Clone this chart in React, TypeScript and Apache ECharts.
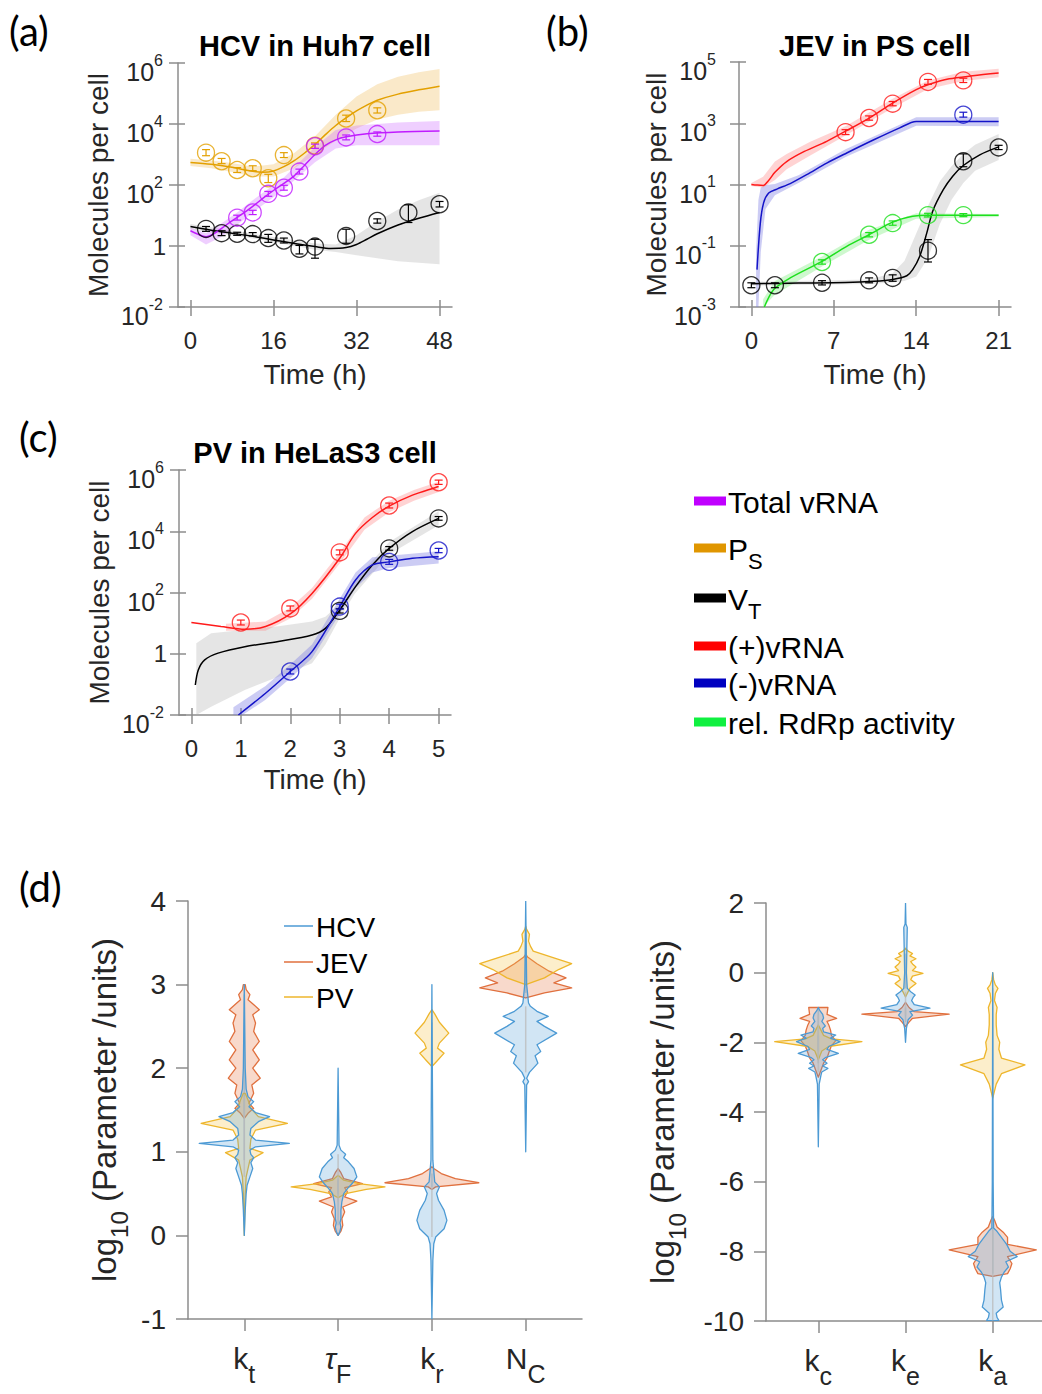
import React, { useEffect, useRef } from 'react';
import * as echarts from 'echarts';

// ======================= DATA =======================
// All concentrations are log10(molecules per cell); times in hours.

// ---------- (a) HCV in Huh7 cell ----------
const hcvTimeTicks = [0, 16, 32, 48];
const hcvLogTicks = [-2, 0, 2, 4, 6];
// measured points: [time, mean, lower, upper]
const hcvPsPoints = [
  [3, 3.06, 2.96, 3.16], [6, 2.78, 2.7, 2.87], [9, 2.49, 2.41, 2.57], [12, 2.55, 2.47, 2.63],
  [15, 2.22, 2.08, 2.35], [18, 2.98, 2.9, 3.06], [24, 3.29, 3.2, 3.38], [30, 4.18, 4.08, 4.29],
  [36, 4.45, 4.36, 4.53],
];
const hcvTotalPoints = [
  [9, 0.93, 0.85, 1.01], [12, 1.1, 1.03, 1.17], [15, 1.71, 1.63, 1.79], [18, 1.91, 1.83, 1.99],
  [21, 2.44, 2.36, 2.52], [24, 3.27, 3.2, 3.34], [30, 3.56, 3.48, 3.64], [36, 3.67, 3.6, 3.74],
];
const hcvVtPoints = [
  [3, 0.56, 0.48, 0.64], [6, 0.42, 0.34, 0.5], [9, 0.4, 0.35, 0.45], [12, 0.39, 0.33, 0.44],
  [15, 0.26, 0.12, 0.38], [18, 0.18, 0.1, 0.26], [21, -0.09, -0.26, 0.02], [24, -0.02, -0.4, 0.22],
  [30, 0.33, 0.09, 0.55], [36, 0.82, 0.75, 0.89], [42, 1.1, 0.77, 1.35], [48, 1.37, 1.28, 1.46],
];
// best-fit model curves: [time, value]
const hcvPsFit = [
  [0, 2.74], [4, 2.68], [8, 2.58], [12, 2.45], [14, 2.42], [16, 2.46], [18, 2.6], [20, 2.8],
  [22, 3.05], [24, 3.33], [26, 3.65], [28, 3.95], [30, 4.2], [32, 4.43], [34, 4.62], [36, 4.78],
  [40, 4.98], [44, 5.12], [48, 5.24],
];
const hcvTotalFit = [
  [0, 0.5], [1.5, 0.38], [3, 0.3], [4.5, 0.4], [6, 0.58], [8, 0.82], [10, 1.05], [12, 1.3],
  [14, 1.57], [16, 1.82], [18, 2.05], [20, 2.3], [22, 2.65], [24, 3.0], [26, 3.3], [28, 3.48],
  [30, 3.58], [34, 3.68], [40, 3.74], [48, 3.77],
];
const hcvVtFit = [
  [0, 0.64], [4, 0.52], [8, 0.42], [12, 0.32], [16, 0.2], [20, 0.08], [24, -0.02], [27, -0.08],
  [30, -0.05], [32, 0.05], [34, 0.22], [36, 0.4], [40, 0.69], [44, 0.91], [48, 1.1],
];
// ensemble envelopes: [time, low, high]
const hcvPsBand = [
  [0, 2.62, 2.86], [4, 2.55, 2.8], [8, 2.43, 2.72], [12, 2.28, 2.6], [16, 2.28, 2.68],
  [20, 2.55, 3.05], [24, 3.0, 3.6], [28, 3.45, 4.3], [32, 3.85, 4.9], [36, 4.15, 5.3],
  [40, 4.3, 5.55], [44, 4.4, 5.7], [48, 4.45, 5.8],
];
const hcvTotalBand = [
  [0, 0.35, 0.6], [3, 0.05, 0.42], [6, 0.3, 0.75], [9, 0.7, 1.1], [12, 1.1, 1.5], [18, 1.85, 2.25],
  [24, 2.75, 3.25], [28, 3.2, 3.8], [32, 3.3, 3.95], [40, 3.3, 4.05], [48, 3.3, 4.1],
];
const hcvVtBand = [
  [0, 0.55, 0.72], [12, 0.25, 0.4], [24, -0.12, 0.08], [28, -0.2, 0.05], [32, -0.3, 0.35],
  [36, -0.4, 0.8], [40, -0.5, 1.2], [44, -0.55, 1.5], [48, -0.6, 1.75],
];

// ---------- (b) JEV in PS cell ----------
const jevTimeTicks = [0, 7, 14, 21];
const jevLogTicks = [-3, -1, 1, 3, 5];
const jevPlusPoints = [
  [8, 2.71, 2.63, 2.79], [10, 3.17, 3.1, 3.24], [12, 3.64, 3.57, 3.71], [15, 4.35, 4.27, 4.43],
  [18, 4.4, 4.33, 4.47],
];
const jevMinusPoints = [[18, 3.28, 3.2, 3.36]];
const jevRdrpPoints = [
  [6, -1.53, -1.6, -1.46], [10, -0.64, -0.71, -0.57], [12, -0.26, -0.33, -0.19], [15, 0, -0.06, 0.06],
  [18, 0, -0.05, 0.05],
];
const jevVtPoints = [
  [0, -2.29, -2.37, -2.21], [2, -2.29, -2.37, -2.21], [6, -2.21, -2.28, -2.14], [10, -2.13, -2.21, -2.05],
  [12, -2.05, -2.16, -1.95], [15, -1.16, -1.53, -0.8], [18, 1.76, 1.58, 2.0], [21, 2.21, 2.14, 2.28],
];
const jevPlusFit = [
  [0, 1.0], [0.5, 0.98], [1, 0.97], [1.5, 1.15], [2, 1.4], [3, 1.75], [4.5, 2.08], [6.4, 2.41],
  [8, 2.74], [10, 3.17], [12, 3.66], [14, 4.1], [15, 4.26], [16.8, 4.45], [18.8, 4.55], [21, 4.64],
];
const jevMinusFit = [
  [0.48, -1.78], [0.76, -0.26], [1.04, 0.4], [1.47, 0.72], [2.17, 0.85], [3.3, 1.03], [4.7, 1.32],
  [6.4, 1.7], [8.1, 2.03], [10.4, 2.46], [12.6, 2.85], [14, 3.06], [21, 3.06],
];
const jevRdrpFit = [
  [1.1, -3], [1.9, -2.43], [3.3, -2.05], [6, -1.51], [8.1, -1.02], [10, -0.64], [12, -0.23],
  [13.7, -0.04], [15, 0], [21, 0],
];
const jevVtFit = [
  [0, -2.24], [4, -2.22], [8, -2.2], [10.4, -2.16], [12, -2.1], [13.2, -1.98], [13.7, -1.78],
  [14.3, -1.34], [14.9, -0.58], [15.4, 0.13], [16.3, 0.83], [17.1, 1.27], [18, 1.62], [19.4, 1.97],
  [21, 2.23],
];
const jevPlusBand = [
  [0, 0.95, 1.05], [1, 0.9, 1.25], [2, 1.15, 1.75], [3, 1.5, 2.0], [5, 1.95, 2.4], [8, 2.6, 2.9],
  [12, 3.5, 3.8], [15, 4.12, 4.4], [18, 4.38, 4.68], [21, 4.5, 4.78],
];
const jevMinusBand = [
  [0.4, -3, -1.2], [0.6, -3, 0.5], [0.8, -1.2, 0.9], [1.2, 0.2, 0.98], [2, 0.65, 1.02],
  [4, 1.05, 1.3], [8, 1.9, 2.15], [14, 2.92, 3.2], [21, 2.9, 3.2],
];
const jevRdrpBand = [
  [1, -3, -2.75], [2, -2.6, -2.15], [6, -1.68, -1.35], [10, -0.8, -0.48], [14, -0.12, 0.06],
  [21, -0.06, 0.04],
];
const jevVtBand = [
  [0, -2.3, -2.18], [10, -2.25, -2.1], [12, -2.2, -1.9], [13, -2.15, -1.5], [14, -2.0, -0.6],
  [15, -1.4, 0.3], [16, -0.3, 1.1], [17, 0.5, 1.6], [18, 1.05, 2.0], [19, 1.45, 2.3], [21, 1.8, 2.65],
];

// ---------- (c) PV in HeLaS3 cell ----------
const pvTimeTicks = [0, 1, 2, 3, 4, 5];
const pvLogTicks = [-2, 0, 2, 4, 6];
const pvPlusPoints = [
  [1, 1.02, 0.94, 1.1], [2, 1.48, 1.4, 1.56], [3, 3.31, 3.23, 3.39], [4, 4.84, 4.76, 4.92],
  [5, 5.6, 5.53, 5.67],
];
const pvVtPoints = [[3, 1.4, 1.33, 1.47], [4, 3.44, 3.38, 3.5], [5, 4.42, 4.36, 4.48]];
const pvMinusPoints = [
  [2, -0.58, -0.66, -0.5], [3, 1.54, 1.46, 1.62], [4, 3.0, 2.92, 3.08], [5, 3.37, 3.3, 3.44],
];
const pvPlusFit = [
  [0, 1.02], [0.6, 0.89], [1.08, 0.8], [1.5, 0.89], [2, 1.3], [2.44, 1.97], [3, 3.12], [3.32, 3.93],
  [3.66, 4.45], [4, 4.82], [4.47, 5.18], [5, 5.46],
];
const pvVtFit = [
  [0.08, -1.02], [0.14, -0.53], [0.27, -0.2], [0.54, 0.02], [1.08, 0.23], [1.76, 0.4], [2.44, 0.61],
  [2.71, 0.83], [2.98, 1.38], [3.32, 2.19], [3.66, 2.9], [4, 3.44], [4.47, 3.99], [5, 4.42],
];
const pvMinusFit = [
  [0.95, -2], [1.5, -1.29], [2, -0.58], [2.44, 0.07], [3, 1.54], [3.32, 2.41], [3.66, 2.9],
  [4, 3.0], [4.47, 3.12], [5, 3.17],
];
const pvPlusBand = [
  [0.7, 0.75, 0.98], [1.5, 0.75, 1.05], [2, 1.15, 1.5], [2.44, 1.8, 2.15], [3, 2.95, 3.3],
  [3.5, 4.05, 4.45], [4, 4.62, 5.0], [4.5, 5.0, 5.35], [5, 5.28, 5.62],
];
const pvVtBand = [
  [0.1, -2, 0.34], [0.4, -1.73, 0.67], [1.08, -1.18, 0.78], [1.76, -0.75, 0.9], [2.44, -0.31, 1.05],
  [2.71, 0.3, 1.21], [2.98, 1.1, 1.6], [3.3, 1.95, 2.4], [4, 3.25, 3.65], [5, 4.2, 4.65],
];
const pvMinusBand = [
  [0.85, -2.2, -1.75], [1.5, -1.5, -1.05], [2, -0.8, -0.35], [2.44, -0.15, 0.3], [3, 1.3, 1.8],
  [3.32, 2.15, 2.65], [3.66, 2.65, 3.15], [4, 2.8, 3.2], [5, 2.95, 3.35],
];

// ---------- legend of (a)-(c) ----------
const speciesLabels = [['Total vRNA', ''], ['P', 'S'], ['V', 'T'], ['(+)vRNA', ''], ['(-)vRNA', ''], ['rel. RdRp activity', '']];

// ---------- (d) posterior violins: [log10 value, half width] ----------
const leftParams = [['k', 't'], ['τ', 'F'], ['k', 'r'], ['N', 'C']];
const leftPositions = [1, 2, 3, 4];
const leftTicks = [-1, 0, 1, 2, 3, 4];
const rightParams = [['k', 'c'], ['k', 'e'], ['k', 'a']];
const rightPositions = [1, 2, 3];
const rightTicks = [-10, -8, -6, -4, -2, 0, 2];
const virusNames = ['HCV', 'JEV', 'PV'];

const ktHCV = [[0, 0], [0.3, 0.01], [0.5, 0.02], [0.6, 0.03], [0.7, 0.06], [0.8, 0.09], [0.87, 0.07], [0.93, 0.1], [0.97, 0.07], [1.02, 0.06], [1.06, 0.12], [1.1, 0.48], [1.14, 0.12], [1.2, 0.06], [1.28, 0.07], [1.36, 0.15], [1.42, 0.27], [1.47, 0.12], [1.54, 0.05], [1.6, 0.1], [1.66, 0.04], [1.75, 0.02], [2.0, 0.01], [3.0, 0]];
const ktJEV = [[1.4, 0], [1.46, 0.04], [1.52, 0.1], [1.58, 0.05], [1.7, 0.1], [1.8, 0.08], [1.88, 0.17], [2.0, 0.09], [2.1, 0.16], [2.22, 0.09], [2.32, 0.16], [2.44, 0.1], [2.54, 0.12], [2.64, 0.09], [2.7, 0.16], [2.78, 0.08], [2.82, 0.04], [2.88, 0.06], [2.94, 0.02], [3.0, 0.01]];
const ktPV = [[0, 0], [0.5, 0.01], [0.7, 0.02], [0.9, 0.06], [0.99, 0.2], [1.04, 0.06], [1.15, 0.07], [1.26, 0.12], [1.34, 0.46], [1.42, 0.15], [1.52, 0.07], [1.62, 0.04], [1.7, 0.01]];
const tauHCV = [[0, 0], [0.05, 0.02], [0.1, 0.03], [0.15, 0.02], [0.2, 0.03], [0.3, 0.03], [0.4, 0.04], [0.5, 0.06], [0.56, 0.1], [0.62, 0.15], [0.7, 0.2], [0.8, 0.17], [0.88, 0.11], [0.93, 0.06], [0.97, 0.08], [1.02, 0.03], [1.08, 0.01], [2.0, 0]];
const tauJEV = [[0, 0], [0.05, 0.03], [0.12, 0.05], [0.2, 0.04], [0.28, 0.07], [0.34, 0.05], [0.41, 0.2], [0.46, 0.07], [0.52, 0.1], [0.57, 0.07], [0.62, 0.26], [0.68, 0.06], [0.75, 0.03], [0.8, 0]];
const tauPV = [[0.45, 0], [0.5, 0.08], [0.55, 0.3], [0.58, 0.5], [0.62, 0.22], [0.66, 0.06], [0.72, 0]];
const krHCV = [[-1, 0], [-0.3, 0.01], [-0.1, 0.02], [-0.02, 0.04], [0.08, 0.13], [0.18, 0.16], [0.3, 0.13], [0.42, 0.07], [0.5, 0.05], [0.58, 0.08], [0.64, 0.03], [0.9, 0.01], [3.0, 0]];
const krJEV = [[0.55, 0], [0.58, 0.04], [0.63, 0.5], [0.68, 0.25], [0.74, 0.1], [0.8, 0.02], [0.82, 0]];
const krPV = [[2.02, 0], [2.08, 0.05], [2.18, 0.13], [2.24, 0.06], [2.3, 0.08], [2.42, 0.18], [2.55, 0.08], [2.65, 0.03], [2.7, 0]];
const ncHCV = [[1.0, 0], [1.8, 0.01], [1.84, 0.03], [1.88, 0.01], [1.95, 0.04], [2.06, 0.13], [2.15, 0.1], [2.2, 0.16], [2.28, 0.12], [2.42, 0.33], [2.5, 0.2], [2.56, 0.12], [2.62, 0.24], [2.68, 0.12], [2.74, 0.05], [2.78, 0.03], [3.0, 0.01], [4.0, 0]];
const ncJEV = [[2.84, 0], [2.9, 0.2], [2.96, 0.49], [3.02, 0.3], [3.08, 0.43], [3.16, 0.25], [3.25, 0.12], [3.33, 0.02], [3.36, 0]];
const ncPV = [[3.0, 0], [3.08, 0.2], [3.18, 0.35], [3.25, 0.49], [3.32, 0.3], [3.4, 0.08], [3.46, 0.05], [3.52, 0.03], [3.6, 0.04], [3.66, 0.01], [3.7, 0]];

const kcHCV = [[-5, 0], [-3.2, 0.01], [-2.95, 0.03], [-2.85, 0.04], [-2.75, 0.11], [-2.68, 0.05], [-2.6, 0.1], [-2.5, 0.05], [-2.44, 0.08], [-2.32, 0.23], [-2.2, 0.1], [-2.12, 0.12], [-1.98, 0.25], [-1.88, 0.14], [-1.79, 0.2], [-1.7, 0.06], [-1.6, 0.05], [-1.53, 0.08], [-1.4, 0.04], [-1.3, 0.06], [-1.2, 0.05], [-1.1, 0.02], [-1.0, 0]];
const kcJEV = [[-3.0, 0], [-2.8, 0.03], [-2.6, 0.06], [-2.45, 0.1], [-2.3, 0.12], [-2.1, 0.15], [-1.95, 0.2], [-1.8, 0.15], [-1.65, 0.14], [-1.5, 0.12], [-1.4, 0.1], [-1.31, 0.21], [-1.2, 0.1], [-1.0, 0.11]];
const kcPV = [[-2.5, 0], [-2.25, 0.04], [-2.12, 0.12], [-1.98, 0.5], [-1.9, 0.15], [-1.8, 0.06], [-1.6, 0.02], [-1.5, 0]];
const keHCV = [[-2, 0], [-1.6, 0.01], [-1.35, 0.03], [-1.22, 0.08], [-1.12, 0.05], [-1.02, 0.28], [-0.92, 0.1], [-0.8, 0.07], [-0.7, 0.09], [-0.64, 0.11], [-0.55, 0.06], [-0.45, 0.02], [0, 0.01], [1.3, 0.02], [1.4, 0.005], [2, 0]];
const keJEV = [[-1.55, 0], [-1.42, 0.04], [-1.31, 0.08], [-1.19, 0.5], [-1.12, 0.1], [-1.0, 0.04], [-0.85, 0]];
const kePV = [[-0.7, 0], [-0.55, 0.03], [-0.45, 0.05], [-0.31, 0.12], [-0.2, 0.06], [-0.1, 0.08], [-0.02, 0.2], [0.06, 0.08], [0.16, 0.12], [0.25, 0.08], [0.32, 0.06], [0.4, 0.12], [0.48, 0.05], [0.55, 0.08], [0.62, 0.03], [0.7, 0]];
const kaHCV = [[-10, 0], [-9.98, 0.07], [-9.9, 0.05], [-9.78, 0.04], [-9.6, 0.12], [-9.4, 0.1], [-9.1, 0.09], [-8.9, 0.08], [-8.74, 0.1], [-8.6, 0.13], [-8.45, 0.18], [-8.3, 0.15], [-8.15, 0.28], [-8.0, 0.2], [-7.8, 0.16], [-7.6, 0.1], [-7.4, 0.04], [-7.33, 0.01], [-6, 0.005], [0, 0]];
const kaJEV = [[-8.72, 0], [-8.64, 0.17], [-8.5, 0.2], [-8.35, 0.22], [-8.15, 0.17], [-7.96, 0.5], [-7.8, 0.17], [-7.6, 0.17], [-7.45, 0.12], [-7.3, 0.05], [-7.1, 0.02], [-7.0, 0]];
const kaPV = [[-3.6, 0], [-3.4, 0.02], [-3.2, 0.04], [-2.9, 0.1], [-2.65, 0.37], [-2.45, 0.1], [-2.2, 0.07], [-2.0, 0.08], [-1.8, 0.05], [-1.5, 0.04], [-1.2, 0.04], [-1.0, 0.05], [-0.8, 0.02], [-0.6, 0.03], [-0.45, 0.06], [-0.35, 0.03], [-0.2, 0.01], [0, 0]];

// ======================= STYLE =======================
const FONT = "'Liberation Sans', Arial, Helvetica, sans-serif";
const TXT = '#262626';
const AXIS = '#8c8c8c';
const C = {
  total: '#c01cff', ps: '#e3a000', vt: '#000000', plus: '#ff1a1a', minus: '#1414c8', rdrp: '#1ee01e',
};
const BAND = {
  total: 'rgba(205,110,255,0.33)', ps: 'rgba(242,200,120,0.4)', vt: 'rgba(175,175,175,0.33)',
  plus: 'rgba(255,130,130,0.35)', minus: 'rgba(120,120,225,0.38)', rdrp: 'rgba(120,235,120,0.36)',
};
const LEGEND_COLORS = ['#c000ff', '#e09600', '#000000', '#ff0000', '#0000c0', '#10f040'];
const VIOLIN = [
  { stroke: '#4c9ad4', fill: 'rgba(90,160,215,0.28)' },
  { stroke: '#e0703e', fill: 'rgba(230,120,70,0.28)' },
  { stroke: '#eeb62c', fill: 'rgba(245,195,70,0.28)' },
];

const lineStyle = { color: AXIS, width: 1.5 };

function timeAxes(grid: number, min: number, max: number, ticks: number[], gap: number) {
  return [
    {
      type: 'value', gridIndex: grid, min, max, position: 'bottom',
      axisLine: { show: true, onZero: false, lineStyle },
      axisTick: { show: true, length: 9, customValues: ticks, lineStyle },
      axisLabel: { customValues: ticks, margin: 21, fontSize: 24, color: TXT, fontFamily: FONT },
      splitLine: { show: false },
      name: 'Time (h)', nameLocation: 'middle', nameGap: gap,
      nameTextStyle: { fontSize: 28, color: TXT, fontFamily: FONT },
    },
    {
      type: 'value', gridIndex: grid, min, max, position: 'bottom',
      axisLine: { show: false, onZero: false },
      axisTick: { show: true, inside: true, length: 7, customValues: ticks, lineStyle },
      axisLabel: { show: false }, splitLine: { show: false },
    },
  ];
}

const expRich = {
  one: { fontSize: 24, color: TXT, fontFamily: FONT },
  b: { fontSize: 25, color: TXT, fontFamily: FONT, padding: [18, 0, 0, 0] },
  s: { fontSize: 16, color: TXT, fontFamily: FONT, padding: [0, 3, 6, 0] },
};
const expFormatter = (v: number) => (v === 0 ? '{one|1}' : `{b|10}{s|${v}}`);

function logAxes(grid: number, min: number, max: number, ticks: number[], margin: number, gap: number) {
  return [
    {
      type: 'value', gridIndex: grid, min, max, position: 'left',
      axisLine: { show: true, onZero: false, lineStyle },
      axisTick: { show: true, length: 9, customValues: ticks, lineStyle },
      axisLabel: { customValues: ticks, margin, formatter: expFormatter, rich: expRich },
      splitLine: { show: false },
      name: 'Molecules per cell', nameLocation: 'middle', nameGap: gap,
      nameTextStyle: { fontSize: 28, color: TXT, fontFamily: FONT },
    },
    {
      type: 'value', gridIndex: grid, min, max, position: 'left',
      axisLine: { show: false, onZero: false },
      axisTick: { show: true, inside: true, length: 7, customValues: ticks, lineStyle },
      axisLabel: { show: false }, splitLine: { show: false },
    },
  ];
}

const subRich = {
  m: { fontSize: 30, color: TXT, fontFamily: FONT },
  g: { fontSize: 30, color: TXT, fontFamily: FONT, fontStyle: 'italic' },
  s: { fontSize: 25, color: TXT, fontFamily: FONT, padding: [30, 0, 0, 0] },
};
const paramLabel = (p: string[]) => `{${p[0] === 'τ' ? 'g' : 'm'}|${p[0]}}{s|${p[1]}}`;

function paramAxes(grid: number, max: number, positions: number[], params: string[][], yMin: number, yMax: number, yTicks: number[], gap: number) {
  const x = {
    type: 'value', gridIndex: grid, min: 0.4, max, position: 'bottom',
    axisLine: { show: true, onZero: false, lineStyle },
    axisTick: { show: true, length: 12, customValues: positions, lineStyle },
    axisLabel: {
      customValues: positions, margin: 12, rich: subRich,
      formatter: (v: number) => paramLabel(params[positions.indexOf(v)] || ['', '']),
    },
    splitLine: { show: false },
  };
  const y = {
    type: 'value', gridIndex: grid, min: yMin, max: yMax, position: 'left',
    axisLine: { show: true, onZero: false, lineStyle },
    axisTick: { show: true, length: 12, customValues: yTicks, lineStyle },
    axisLabel: { customValues: yTicks, margin: 22, fontSize: 28, color: TXT, fontFamily: FONT },
    splitLine: { show: false },
    name: '{n|log}{s|10}{n| (Parameter /units)}', nameLocation: 'middle', nameGap: gap,
    nameTextStyle: {
      rich: {
        n: { fontSize: 33, color: TXT, fontFamily: FONT },
        s: { fontSize: 24, color: TXT, fontFamily: FONT, padding: [30, 0, 0, 0] },
      },
    },
  };
  return { x, y };
}

type Curve = { fit: number[][]; band: number[][]; points: number[][]; color: string; bandColor: string };

function curveSeries(ax: number, curves: Curve[]) {
  const out: any[] = [];
  curves.forEach((c) => {
    const band = c.band;
    out.push({
      type: 'custom', xAxisIndex: ax, yAxisIndex: ax, clip: true, silent: true, z: 1,
      data: band.map((p) => [p[0], p[1], p[2]]),
      encode: { x: 0, y: [1, 2] },
      renderItem: (params: any, api: any) => {
        if (params.dataIndex !== 0) return null;
        const top = band.map((p) => api.coord([p[0], p[2]]));
        const bot = band.slice().reverse().map((p) => api.coord([p[0], p[1]]));
        return { type: 'polygon', shape: { points: top.concat(bot) }, style: { fill: c.bandColor } };
      },
    });
  });
  curves.forEach((c) => {
    out.push({
      type: 'line', xAxisIndex: ax, yAxisIndex: ax, data: c.fit, showSymbol: false, smooth: 0.3,
      lineStyle: { color: c.color, width: 1.5 }, itemStyle: { color: c.color }, z: 2, silent: true,
    });
  });
  curves.forEach((c) => {
    if (!c.points.length) return;
    out.push({
      type: 'scatter', xAxisIndex: ax, yAxisIndex: ax, data: c.points.map((p) => [p[0], p[1]]),
      symbol: 'circle', symbolSize: 17, silent: true, z: 3,
      itemStyle: { color: 'rgba(255,255,255,0)', borderColor: c.color, borderWidth: 1.3 },
    });
    out.push({
      type: 'custom', xAxisIndex: ax, yAxisIndex: ax, silent: true, z: 3,
      data: c.points, encode: { x: 0, y: [1, 2, 3] },
      renderItem: (params: any, api: any) => {
        const t = api.value(0);
        const a = api.coord([t, api.value(2)]);
        const b = api.coord([t, api.value(3)]);
        const w = 4;
        const st = { stroke: c.color, lineWidth: 1.2 };
        return {
          type: 'group', children: [
            { type: 'line', shape: { x1: a[0], y1: a[1], x2: b[0], y2: b[1] }, style: st },
            { type: 'line', shape: { x1: a[0] - w, y1: a[1], x2: a[0] + w, y2: a[1] }, style: st },
            { type: 'line', shape: { x1: b[0] - w, y1: b[1], x2: b[0] + w, y2: b[1] }, style: st },
          ],
        };
      },
    });
  });
  return out;
}

function violinSeries(ax: number, name: string, shapes: number[][][], positions: number[], style: { stroke: string; fill: string }) {
  return {
    type: 'custom', name, xAxisIndex: ax, yAxisIndex: ax, clip: true, silent: true, z: 2,
    data: positions.map((p, i) => [p, shapes[i][0][0]]),
    renderItem: (params: any, api: any) => {
      const i = params.dataIndex;
      const c = positions[i];
      const s = shapes[i];
      const right = s.map(([y, h]) => api.coord([c + h, y]));
      const left = s.slice().reverse().map(([y, h]) => api.coord([c - h, y]));
      const wide = s.filter(([, h]) => h >= 0.04).map(([y]) => y);
      const children: any[] = [{
        type: 'polygon', shape: { points: right.concat(left) },
        style: { fill: style.fill, stroke: style.stroke, lineWidth: 1.3, lineJoin: 'round' },
      }];
      if (wide.length > 1) {
        const p1 = api.coord([c, Math.min(...wide)]);
        const p2 = api.coord([c, Math.max(...wide)]);
        children.push({
          type: 'line', shape: { x1: p1[0], y1: p1[1], x2: p2[0], y2: p2[1] },
          style: { stroke: 'rgba(185,185,185,0.75)', lineWidth: 1.5 },
        });
      }
      return { type: 'group', children };
    },
  };
}

function txt(text: string, x: number, y: number, font: string, align = 'left', extra: any = {}) {
  return {
    type: 'text', x, y, silent: true,
    style: { text, font, fill: '#000', align, textAlign: align, verticalAlign: 'middle', textVerticalAlign: 'middle', ...extra },
  };
}

function buildOption() {
  const grids = [
    { left: 178, top: 63, width: 274, height: 244 },
    { left: 739, top: 62, width: 272, height: 245 },
    { left: 179, top: 470, width: 272, height: 245 },
    { left: 188, top: 901, width: 394, height: 418 },
    { left: 766, top: 903, width: 276, height: 418 },
  ].map((g) => ({ ...g, containLabel: false, outerBoundsMode: 'none' }));

  const dl = paramAxes(3, 4.6, leftPositions, leftParams, -1, 4, leftTicks, 57);
  const dr = paramAxes(4, 3.565, rightPositions, rightParams, -10, 2, rightTicks, 77);

  const xAxis = [
    ...timeAxes(0, -2.4, 50.4, hcvTimeTicks, 53),
    ...timeAxes(1, -1.05, 22.05, jevTimeTicks, 53),
    ...timeAxes(2, -0.25, 5.25, pvTimeTicks, 50),
    dl.x, dr.x,
  ];
  const yAxis = [
    ...logAxes(0, -2, 6, hcvLogTicks, 12, 66),
    ...logAxes(1, -3, 5, jevLogTicks, 20, 66),
    ...logAxes(2, -2, 6, pvLogTicks, 12, 66),
    dl.y, dr.y,
  ];

  const series: any[] = [
    ...curveSeries(0, [
      { fit: hcvVtFit, band: hcvVtBand, points: hcvVtPoints, color: C.vt, bandColor: BAND.vt },
      { fit: hcvPsFit, band: hcvPsBand, points: hcvPsPoints, color: C.ps, bandColor: BAND.ps },
      { fit: hcvTotalFit, band: hcvTotalBand, points: hcvTotalPoints, color: C.total, bandColor: BAND.total },
    ]),
    ...curveSeries(2, [
      { fit: jevVtFit, band: jevVtBand, points: jevVtPoints, color: C.vt, bandColor: BAND.vt },
      { fit: jevRdrpFit, band: jevRdrpBand, points: jevRdrpPoints, color: C.rdrp, bandColor: BAND.rdrp },
      { fit: jevMinusFit, band: jevMinusBand, points: jevMinusPoints, color: C.minus, bandColor: BAND.minus },
      { fit: jevPlusFit, band: jevPlusBand, points: jevPlusPoints, color: C.plus, bandColor: BAND.plus },
    ]),
    ...curveSeries(4, [
      { fit: pvVtFit, band: pvVtBand, points: pvVtPoints, color: C.vt, bandColor: BAND.vt },
      { fit: pvMinusFit, band: pvMinusBand, points: pvMinusPoints, color: C.minus, bandColor: BAND.minus },
      { fit: pvPlusFit, band: pvPlusBand, points: pvPlusPoints, color: C.plus, bandColor: BAND.plus },
    ]),
    violinSeries(6, 'JEV', [ktJEV, tauJEV, krJEV, ncJEV], leftPositions, VIOLIN[1]),
    violinSeries(6, 'PV', [ktPV, tauPV, krPV, ncPV], leftPositions, VIOLIN[2]),
    violinSeries(6, 'HCV', [ktHCV, tauHCV, krHCV, ncHCV], leftPositions, VIOLIN[0]),
    violinSeries(7, 'JEV', [kcJEV, keJEV, kaJEV], rightPositions, VIOLIN[1]),
    violinSeries(7, 'PV', [kcPV, kePV, kaPV], rightPositions, VIOLIN[2]),
    violinSeries(7, 'HCV', [kcHCV, keHCV, kaHCV], rightPositions, VIOLIN[0]),
  ];

  const tagFont = "40px Lato, 'Open Sans', sans-serif";
  const titleFont = `bold 29px ${FONT}`;
  const legendY = [501, 548, 598, 646, 683, 722];
  const dLegendY = [926, 962, 997];

  const graphic: any[] = [
    txt('(a)', 9, 31, tagFont), txt('(b)', 546, 31, tagFont),
    txt('(c)', 19, 437, tagFont), txt('(d)', 19, 887, tagFont),
    txt('HCV in Huh7 cell', 315, 46, titleFont, 'center'),
    txt('JEV in PS cell', 875, 46, titleFont, 'center'),
    txt('PV in HeLaS3 cell', 315, 453, titleFont, 'center'),
  ];
  speciesLabels.forEach((lab, i) => {
    graphic.push({
      type: 'rect', silent: true, shape: { x: 694, y: legendY[i] - 4.5, width: 32, height: 9 },
      style: { fill: LEGEND_COLORS[i] },
    });
    graphic.push({
      type: 'text', x: 728, y: legendY[i] + 1, silent: true,
      style: {
        text: lab[1] ? `{m|${lab[0]}}{s|${lab[1]}}` : `{m|${lab[0]}}`,
        align: 'left', textAlign: 'left', verticalAlign: 'middle', textVerticalAlign: 'middle',
        rich: {
          m: { fontSize: 30, fontFamily: FONT, fill: '#000' },
          s: { fontSize: 22, fontFamily: FONT, fill: '#000', padding: [24, 0, 0, 0] },
        },
      },
    });
  });
  virusNames.forEach((n, i) => {
    graphic.push({
      type: 'line', silent: true, shape: { x1: 284, y1: dLegendY[i], x2: 313, y2: dLegendY[i] },
      style: { stroke: VIOLIN[i].stroke, lineWidth: 1.5 },
    });
    graphic.push(txt(n, 316, dLegendY[i] + 1, `28px ${FONT}`));
  });

  return {
    animation: false,
    backgroundColor: '#ffffff',
    grid: grids,
    xAxis,
    yAxis,
    series,
    graphic,
  };
}

export default function App() {
  const ref = useRef<HTMLDivElement>(null);
  useEffect(() => {
    document.body.style.margin = '0';
    const chart = echarts.init(ref.current as HTMLDivElement, undefined, { renderer: 'svg' });
    chart.setOption(buildOption() as any);
    return () => chart.dispose();
  }, []);
  return <div ref={ref} style={{ width: 1042, height: 1394 }} />;
}
